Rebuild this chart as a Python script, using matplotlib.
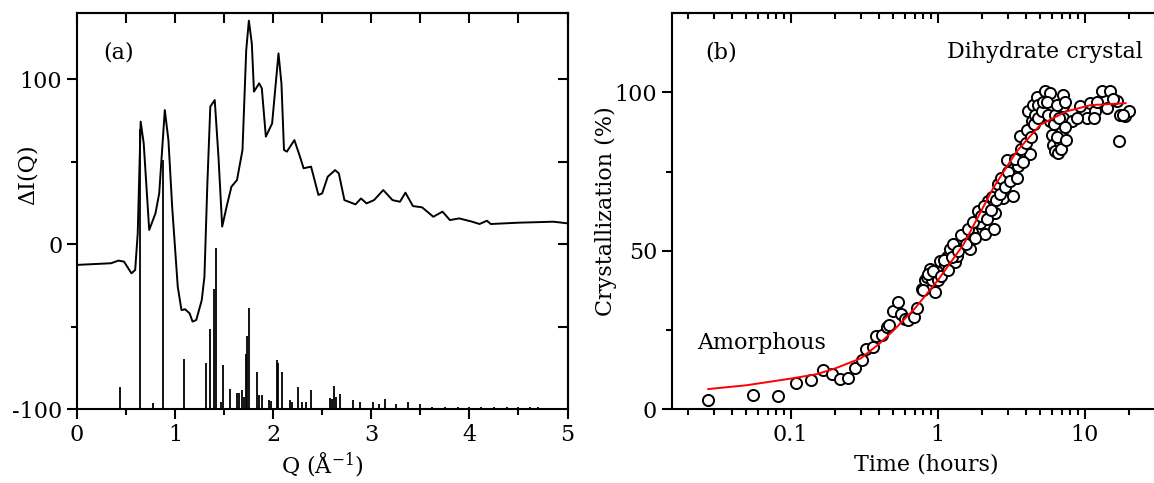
import matplotlib
matplotlib.use('Agg')
import numpy as np
import matplotlib.pyplot as plt
from matplotlib.ticker import FixedLocator, NullFormatter, FuncFormatter, LogLocator

# ---------------- data: panel (a) ----------------
q_curve = [0.0, 0.347, 0.423, 0.479, 0.555, 0.593, 0.619, 0.649, 0.680, 0.736, 0.80, 0.838,
           0.895, 0.932, 0.970, 1.027, 1.065, 1.102, 1.148, 1.178, 1.216, 1.272, 1.299,
           1.329, 1.359, 1.404, 1.442, 1.480, 1.525, 1.574, 1.631, 1.687, 1.725, 1.752,
           1.782, 1.804, 1.857, 1.884, 1.925, 1.989, 2.054, 2.084, 2.110, 2.14, 2.216,
           2.273, 2.31, 2.386, 2.461, 2.499, 2.556, 2.631, 2.669, 2.726, 2.839, 2.895,
           2.952, 3.028, 3.122, 3.216, 3.292, 3.348, 3.424, 3.518, 3.632, 3.726, 3.801,
           3.896, 4.028, 4.103, 4.179, 4.217, 4.50, 4.858, 5.0]
dI_curve = [-12.6, -11.6, -10.0, -10.6, -17.7, -15.7, 6.5, 74.3, 61.1, 8.6, 18.7, 30.8,
            81.3, 63.1, 22.7, -25.8, -40.0, -39.5, -42.0, -47.0, -46.0, -33.9, -19.7,
            36.9, 83.4, 87.4, 53.0, 10.6, 22.7, 34.8, 38.9, 57.1, 117.7, 135.5,
            121.7, 92.5, 97.5, 94.5, 65.2, 73.2, 115.7, 97.5, 57.1, 56.1, 63.1,
            53.0, 46.0, 47.0, 29.8, 30.8, 40.9, 44.9, 42.9, 26.7, 24.1, 27.7,
            24.7, 26.7, 32.8, 26.7, 25.7, 31.2, 23.1, 22.3, 16.6, 19.7, 14.6,
            15.6, 13.6, 12.2, 14.2, 12.2, 13.0, 13.6, 12.6]

stick_q = [0.438, 0.642, 0.778, 0.873, 1.091, 1.312, 1.356, 1.397, 1.414, 1.47, 1.492,
           1.56, 1.628, 1.652, 1.679, 1.70, 1.723, 1.737, 1.757, 1.832, 1.856, 1.883,
           1.961, 1.975, 2.036, 2.053, 2.087, 2.172, 2.19, 2.256, 2.29, 2.334, 2.382,
           2.58, 2.60, 2.623, 2.64, 2.681, 2.817, 2.885, 3.021, 3.08, 3.14, 3.252,
           3.378, 3.497, 3.62, 3.75, 3.88, 4.0, 4.12, 4.25, 4.38, 4.5, 4.62, 4.70]
stick_top = [-86.5, 70.0, -96.6, 51.0, -69.7, -72.3, -51.5, -27.4, -2.6, -96.0, -73.3,
             -87.9, -90.0, -90.0, -88.5, -93.0, -66.6, -56.0, -38.6, -77.3, -91.5, -91.5,
             -94.5, -95.0, -70.3, -72.3, -77.3, -94.5, -95.5, -86.9, -96.0, -96.0, -88.5,
             -93.5, -94.0, -85.8, -93.0, -91.1, -94.5, -95.9, -96.0, -97.0, -93.9, -97.0,
             -96.0, -97.0, -98.5, -98.5, -98.5, -98.5, -98.5, -98.5, -98.5, -98.5, -98.5, -98.5]

# ---------------- data: panel (b) ----------------
t_obs = [0.0275, 0.0551, 0.0816, 0.109, 0.137, 0.165, 0.192, 0.216, 0.247, 0.274, 0.304,
         0.325, 0.361, 0.380, 0.416, 0.450, 0.469, 0.499, 0.540, 0.560, 0.600, 0.631,
         0.693, 0.720, 0.778, 0.820, 0.841, 0.887, 0.910, 0.959, 1.00, 1.037, 1.065,
         1.12, 1.15, 1.213, 1.312, 1.35, 1.42, 1.49, 1.66, 1.70, 1.89, 1.94, 2.10,
         2.21, 2.43, 2.45, 2.58, 2.79, 2.95, 3.19, 3.27, 3.53, 3.63, 3.93, 4.13, 4.24,
         4.47, 4.71, 4.96, 5.37, 5.81, 5.97, 5.81, 5.97, 6.11, 6.28, 6.61, 6.79, 6.98,
         7.08, 7.15, 7.15, 8.16, 9.29, 10.3, 10.9, 11.75, 13.05, 14.1, 14.86, 16.5,
         17.4, 17.2, 18.8, 20.1,
         0.80, 0.86, 0.93, 1.05, 1.10, 1.18, 1.25, 1.28, 1.38, 1.45, 1.55, 1.60, 1.75,
         1.80, 1.98, 2.05, 2.15, 2.30, 2.35, 2.50, 2.65, 2.70, 2.85, 3.00, 3.10, 3.35,
         3.45, 3.70, 3.80, 4.00, 4.05, 4.30, 4.35, 4.55, 4.60, 4.80, 4.85, 5.10, 5.20,
         5.50, 5.60, 6.20, 6.30, 6.45, 6.50, 6.70, 6.85, 7.30, 7.40, 7.50, 8.80, 11.5,
         12.2, 15.5, 18.2]
c_obs = [2.8, 4.4, 4.2, 8.1, 9.1, 12.3, 11.0, 9.4, 9.9, 13.0, 15.4,
         19.1, 19.6, 23.0, 23.3, 25.9, 26.6, 31.1, 33.7, 30.1, 28.5, 28.0,
         29.2, 32.0, 38.0, 40.6, 41.6, 44.2, 40.6, 36.9, 40.6, 46.9, 43.7,
         45.8, 47.9, 50.5, 46.3, 48.4, 52.1, 53.1, 50.5, 55.8, 62.6, 58.9, 55.2,
         65.7, 56.8, 62.0, 71.0, 66.8, 78.8, 74.1, 67.3, 76.8, 86.2, 80.4, 94.0, 80.4,
         96.1, 98.7, 95.0, 100.3, 99.8, 95.6, 90.9, 86.7, 83.5, 81.4, 80.9, 84.5, 87.7,
         99.3, 95.6, 91.9, 90.9, 95.6, 91.9, 96.6, 94.0, 100.3, 95.0, 100.3, 97.2,
         93.0, 84.6, 92.5, 94.0,
         37.5, 42.5, 43.5, 42.0, 47.0, 44.0, 48.0, 52.0, 50.0, 55.0, 52.0, 57.0, 59.0,
         54.0, 61.0, 64.0, 60.0, 63.0, 67.0, 66.0, 68.0, 73.0, 70.0, 75.0, 72.0, 79.0,
         73.0, 82.0, 78.0, 84.0, 88.0, 86.0, 91.0, 90.0, 93.0, 92.0, 96.0, 94.0, 97.0,
         97.0, 93.0, 90.0, 93.0, 86.0, 96.0, 92.0, 82.0, 97.0, 89.0, 85.0, 92.0, 92.0,
         97.0, 98.0, 93.0]

t_fit = [0.0275, 0.05, 0.1, 0.15, 0.2, 0.3, 0.4, 0.5, 0.7, 1.0, 1.5, 2.4, 3.45, 5.0,
         7.5, 11.0, 19.0]
c_fit = [6.3, 7.5, 9.6, 11.0, 12.8, 16.0, 20.6, 24.8, 31.8, 40.6, 52.0, 70.0, 81.4,
         89.8, 94.0, 96.0, 96.6]

# ---------------- figure ----------------
plt.rcParams['font.family'] = ['DejaVu Serif']
plt.rcParams['mathtext.fontset'] = 'dejavuserif'
plt.rcParams['axes.unicode_minus'] = False
FS = 16

W, H = 1154, 483
fig = plt.figure(figsize=(W / 100, H / 100), dpi=100)


def rect(l, r, t, b):
    return [l / W, 1 - b / H, (r - l) / W, (b - t) / H]


axa = fig.add_axes(rect(77, 567.5, 13.3, 409))
axb = fig.add_axes(rect(671.7, 1187.4, 13.3, 409))

LW_SPINE = 1.5
for ax in (axa, axb):
    for s in ax.spines.values():
        s.set_linewidth(LW_SPINE)

# ----- panel (a) -----
axa.plot(q_curve, dI_curve, color='black', lw=1.4)
axa.vlines(stick_q, -100, stick_top, color='black', lw=1.3)
axa.set_xlim(0, 5)
axa.set_ylim(-100, 140)
axa.xaxis.set_major_locator(FixedLocator([0, 1, 2, 3, 4, 5]))
axa.xaxis.set_minor_locator(FixedLocator([0.5, 1.5, 2.5, 3.5, 4.5]))
axa.yaxis.set_major_locator(FixedLocator([-100, 0, 100]))
axa.yaxis.set_minor_locator(FixedLocator([-50, 50]))
axa.tick_params(which='both', direction='out', top=False, right=False,
                labelsize=FS, width=LW_SPINE)
axa.tick_params(which='major', length=7)
axa.tick_params(which='minor', length=4)
ta = axa.secondary_xaxis('top')
ta.xaxis.set_major_locator(FixedLocator(np.arange(0, 5.01, 0.5)))
ta.xaxis.set_major_formatter(NullFormatter())
ta.tick_params(direction='in', length=7, width=LW_SPINE)
ta.spines['top'].set_linewidth(LW_SPINE)
ra = axa.secondary_yaxis('right')
ra.yaxis.set_major_locator(FixedLocator([-50, 0, 50, 100]))
ra.yaxis.set_major_formatter(NullFormatter())
ra.tick_params(direction='in', length=7, width=LW_SPINE)
ra.spines['right'].set_linewidth(LW_SPINE)

axa.set_xlabel('Q (Å$^{-1}$)', fontsize=FS)
axa.xaxis.set_label_coords(0.5, -0.105)
axa.set_ylabel('ΔI(Q)', fontsize=FS)
axa.yaxis.set_label_coords(-0.078, 0.593)
axa.text(0.054, 0.901, '(a)', transform=axa.transAxes, fontsize=FS,
         ha='left', va='center')

# ----- panel (b) -----
axb.set_xscale('log')
axb.plot(t_obs, c_obs, linestyle='none', marker='o', ms=8, mfc='white',
         mec='black', mew=1.4, zorder=2)
axb.plot(t_fit, c_fit, color='red', lw=1.4, zorder=3)
axb.set_xlim(0.0155, 50)
axb.set_ylim(0, 125)
axb.xaxis.set_major_locator(FixedLocator([0.1, 1, 10]))
axb.xaxis.set_major_formatter(FuncFormatter(lambda v, p: f'{v:g}'))
axb.xaxis.set_minor_locator(LogLocator(base=10, subs=np.arange(2, 10)))
axb.xaxis.set_minor_formatter(NullFormatter())
axb.yaxis.set_major_locator(FixedLocator([0, 50, 100]))
axb.yaxis.set_minor_locator(FixedLocator([25, 75]))
axb.tick_params(which='both', direction='out', top=False, right=False,
                labelsize=FS, width=LW_SPINE)
axb.tick_params(which='major', length=7)
axb.tick_params(which='minor', length=4)
tb = axb.secondary_xaxis('top')
tb.xaxis.set_major_locator(FixedLocator([0.1, 1, 10]))
tb.xaxis.set_minor_locator(LogLocator(base=10, subs=np.arange(2, 10)))
tb.xaxis.set_major_formatter(NullFormatter())
tb.xaxis.set_minor_formatter(NullFormatter())
tb.tick_params(which='both', direction='in', width=LW_SPINE)
tb.tick_params(which='major', length=7)
tb.tick_params(which='minor', length=4)
tb.spines['top'].set_linewidth(LW_SPINE)

axb.set_xlabel('Time (hours)', fontsize=FS)
axb.xaxis.set_label_coords(0.493, -0.112)
axb.set_ylabel('Crystallization (%)', fontsize=FS)
axb.yaxis.set_label_coords(-0.107, 0.499)
axb.text(0.0646, 0.901, '(b)', transform=axb.transAxes, fontsize=FS,
         ha='left', va='center')
axb.text(0.533, 0.901, 'Dihydrate crystal', transform=axb.transAxes, fontsize=FS,
         ha='left', va='center')
axb.text(0.0485, 0.168, 'Amorphous', transform=axb.transAxes, fontsize=FS,
         ha='left', va='center')

fig.savefig('out.png', dpi=100)
